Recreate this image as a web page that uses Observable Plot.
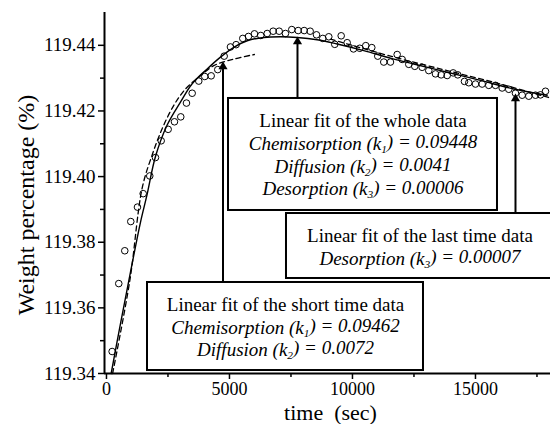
<!DOCTYPE html>
<html>
<head>
<meta charset="utf-8">
<script src="https://cdn.jsdelivr.net/npm/d3@7"></script>
<script src="https://cdn.jsdelivr.net/npm/@observablehq/plot@0.6"></script>
<style>
  html, body { margin: 0; padding: 0; background: #fff; }
  #chart svg { display: block; }
</style>
</head>
<body>
<div id="chart"></div>
<script>
// ---- measured data (time in s, weight percentage) ----
const time = [230, 500, 744, 988, 1260, 1492, 1760, 1992, 2224, 2508, 2764, 3020, 3252, 3484, 3752, 3996, 4256, 4524, 4785, 5040,
  5270, 5541, 5772, 6016, 6272, 6533, 6776, 7020, 7276, 7533, 7793, 8037, 8280, 8537, 8793, 9037, 9280, 9541, 9785, 10041,
  10297, 10541, 10785, 11028, 11272, 11545, 11817, 12020, 12289, 12533, 12833, 13102, 13374, 13606, 13850, 14093, 14280, 14553, 14728, 15000,
  15272, 15541, 15813, 16085, 16354, 16626, 16898, 17167, 17439, 17642, 17846];
const weight = [119.3467, 119.3674, 119.3774, 119.3863, 119.3907, 119.3948, 119.4002, 119.4058, 119.4109, 119.4144, 119.4167, 119.4182, 119.4224, 119.4254, 119.4291, 119.4305, 119.4307, 119.4326, 119.4367, 119.4395,
  119.4402, 119.4421, 119.4427, 119.4435, 119.4430, 119.4436, 119.4443, 119.4443, 119.4436, 119.4448, 119.4445, 119.4445, 119.4443, 119.4432, 119.4421, 119.4426, 119.4403, 119.4429, 119.4408, 119.4389,
  119.4391, 119.4399, 119.4393, 119.4367, 119.4349, 119.4349, 119.4372, 119.4357, 119.4342, 119.4336, 119.4333, 119.4323, 119.4313, 119.4310, 119.4308, 119.4316, 119.4310, 119.4290, 119.4286, 119.4282,
  119.4282, 119.4278, 119.4278, 119.4270, 119.4266, 119.4254, 119.4248, 119.4245, 119.4248, 119.4249, 119.4260];

// fitted curves
const wholeFitTime = [191, 580, 976, 1380, 1650, 1992, 2467, 3008, 3484, 4093, 4634, 5175, 5720, 6394, 7073, 7752, 8565, 9378, 10459, 11545, 12492, 13850, 15203, 16557, 17915];
const wholeFitWeight = [119.3400, 119.3556, 119.3709, 119.3860, 119.3945, 119.4061, 119.4157, 119.4227, 119.4283, 119.4328, 119.4364, 119.4394, 119.4414, 119.4424, 119.4426, 119.4424, 119.4417, 119.4404, 119.4384, 119.4361, 119.4343, 119.4318, 119.4293, 119.4267, 119.4248];
const shortFitTime = [250, 947, 1451, 1858, 2264, 2736, 3211, 3752, 4362, 5175, 6016];
const shortFitWeight = [119.3400, 119.3682, 119.3965, 119.4066, 119.4146, 119.4217, 119.4267, 119.4303, 119.4338, 119.4358, 119.4372];
const lastFitTime = [9107, 11546, 13850, 16017, 17969];
const lastFitWeight = [119.4419, 119.4367, 119.4323, 119.4282, 119.4241];

// axis ticks
const xTicks = [0, 5000, 10000, 15000];
const xMinorTicks = [2500, 7500, 12500, 17500];
const yTicks = [119.34, 119.36, 119.38, 119.40, 119.42, 119.44];
const yMinorTicks = [119.35, 119.37, 119.39, 119.41, 119.43];

// annotation texts
const boxTitles = ["Linear fit of the whole data", "Linear fit of the last time data", "Linear fit of the short time data"];
const boxLines = [
  ["Chemisorption (k_1) = 0.09448", "Diffusion (k_2) = 0.0041", "Desorption (k_3) = 0.00006"],
  ["Desorption (k_3) = 0.00007"],
  ["Chemisorption (k_1) = 0.09462", "Diffusion (k_2) = 0.0072"]
];

// annotation placement (data coordinates)
const boxes = [
  {x1: 4961, x2: 15895, y1: 119.38967, y2: 119.42380, cx: 10428, base: 119.41496},
  {x1: 7318, x2: 18300, y1: 119.36895, y2: 119.38875, cx: 12745, base: 119.37992},
  {x1: 1668, x2: 12887, y1: 119.34091, y2: 119.36773, cx: 7278, base: 119.35904}
];
const lineStep = 0.00690;
const arrows = [
  {x: 7765, from: 119.42380, tip: 119.44269},
  {x: 16627, from: 119.38875, tip: 119.42532},
  {x: 4737, from: 119.36773, tip: 119.43507}
];

const points = time.map((t, i) => ({t, w: weight[i]}));
const whole = wholeFitTime.map((t, i) => ({t, w: wholeFitWeight[i]}));
const short = shortFitTime.map((t, i) => ({t, w: shortFitWeight[i]}));
const last = lastFitTime.map((t, i) => ({t, w: lastFitWeight[i]}));

const titleRows = boxes.map((b, i) => ({x: b.cx, y: b.base, text: boxTitles[i]}));
const italicRows = boxes.flatMap((b, i) => boxLines[i].map((s, j) => ({x: b.cx, y: b.base - (j + 1) * lineStep, text: s})));

const serif = "'Liberation Serif', 'Times New Roman', Times, serif";

const chart = Plot.plot({
  width: 550,
  height: 424,
  marginLeft: 104,
  marginRight: 0,
  marginTop: 12,
  marginBottom: 51,
  style: {fontFamily: serif, background: "#fff", color: "#000", overflow: "visible"},
  x: {domain: [-80, 18050]},
  y: {domain: [119.34, 119.45]},
  marks: [
    Plot.line(whole, {x: "t", y: "w", stroke: "#000", strokeWidth: 1.4, curve: "catmull-rom"}),
    Plot.line(short, {x: "t", y: "w", stroke: "#000", strokeWidth: 1.3, strokeDasharray: "5,3.5", curve: "catmull-rom"}),
    Plot.line(last, {x: "t", y: "w", stroke: "#000", strokeWidth: 1.3, strokeDasharray: "5,3.5", curve: "catmull-rom"}),
    Plot.dot(points, {x: "t", y: "w", r: 3.3, stroke: "#000", strokeWidth: 1, fill: "none"}),
    Plot.rect(boxes, {x1: "x1", x2: "x2", y1: "y1", y2: "y2", fill: "#fff", stroke: "#000", strokeWidth: 2}),
    Plot.ruleX(arrows, {x: "x", y1: "from", y2: d => d.tip - 0.0020, stroke: "#000", strokeWidth: 2}),
    Plot.dot(arrows, {x: "x", y: "tip", symbol: "triangle", r: 3.4, fill: "#000", stroke: "none", dy: 5.2}),
    Plot.text(titleRows, {x: "x", y: "y", text: "text", fontSize: 19, lineAnchor: "bottom", fill: "#000"}),
    Plot.text(italicRows, {x: "x", y: "y", text: "text", fontSize: 19, fontStyle: "italic", lineAnchor: "bottom", fill: "#000"}),
    Plot.ruleX([-80], {stroke: "#000", strokeWidth: 2}),
    Plot.ruleY([119.34], {stroke: "#000", strokeWidth: 2}),
    Plot.axisY(yTicks, {tickSize: 6, tickPadding: 3, tickFormat: d => d.toFixed(2), fontSize: 19, strokeWidth: 1.5, label: null}),
    Plot.axisY(yMinorTicks, {tickSize: 4, tickFormat: () => "", strokeWidth: 1.5, label: null}),
    Plot.axisX(xTicks, {tickSize: 6, tickPadding: 3, tickFormat: d => String(d), fontSize: 18, strokeWidth: 1.5, label: null}),
    Plot.axisX(xMinorTicks, {tickSize: 4, tickFormat: () => "", strokeWidth: 1.5, label: null}),
    Plot.text(["Weight percentage (%)"], {frameAnchor: "left", textAnchor: "middle", rotate: -90, dx: -78, dy: 12, fontSize: 24, fill: "#000"}),
    Plot.text(["time\u00a0 (sec)"], {frameAnchor: "bottom", textAnchor: "middle", dx: 3, dy: 46, lineAnchor: "bottom", fontSize: 22, fill: "#000"})
  ]
});

// render k_n as k with a subscript
d3.select(chart).selectAll("text").each(function () {
  const s = this.textContent;
  const m = s.match(/^(.*?k)_(\d)(.*)$/);
  if (!m) return;
  const el = d3.select(this);
  el.text(null);
  el.append("tspan").text(m[1]);
  el.append("tspan").attr("dy", "0.25em").attr("font-size", "60%").text(m[2]);
  el.append("tspan").attr("dy", "-0.25em").text(m[3]);
});

document.getElementById("chart").append(chart);
</script>
</body>
</html>
